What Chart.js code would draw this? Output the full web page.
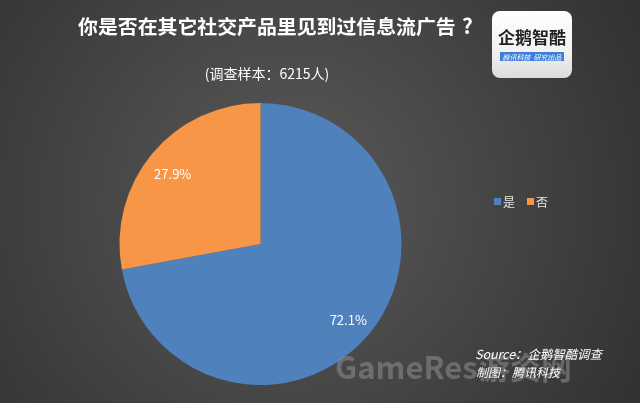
<!DOCTYPE html>
<html>
<head>
<meta charset="utf-8">
<script src="https://cdn.jsdelivr.net/npm/chart.js"></script>
<style>
    html, body { margin: 0; padding: 0; background: #3a3a3a; }
    #wrap { position: relative; width: 640px; height: 403px; }
    canvas { display: block; }
</style>
</head>
<body>
<div id="wrap"><canvas id="grafico" width="640" height="403"></canvas></div>
<script>
// datos
const categorias = ['是', '否'];
const valores = [72.1, 27.9];
const colores = ['#4F81BD', '#F79646'];

const titulo = '你是否在其它社交产品里见到过信息流广告';
const subtitulo = '(调查样本：6215人)';
const fuente = 'Source：企鹅智酷调查';
const autor = '制图：腾讯科技';

const FONT = '"Microsoft YaHei", "Noto Sans CJK SC", "Noto Sans", sans-serif';

// fondo degradado
const fondo = {
    id: 'fondo',
    beforeDraw(chart) {
        const ctx = chart.ctx;
        const w = chart.width, h = chart.height;
        const g = ctx.createRadialGradient(w * 0.45, h * 0.5, 20, w * 0.45, h * 0.5, w * 0.65);
        g.addColorStop(0, '#585858');
        g.addColorStop(1, '#303030');
        ctx.save();
        ctx.fillStyle = g;
        ctx.fillRect(0, 0, w, h);
        ctx.restore();
    }
};

// ajusta el tamaño de letra a un ancho dado
function fontAncho(ctx, texto, base, ancho, estilo) {
    ctx.font = estilo + ' ' + base + 'px ' + FONT;
    const m = ctx.measureText(texto).width;
    const size = base * ancho / m;
    ctx.font = estilo + ' ' + size.toFixed(2) + 'px ' + FONT;
}

// textos, etiquetas, leyenda, logo
const extras = {
    id: 'extras',
    afterDatasetsDraw(chart) {
        const ctx = chart.ctx;
        ctx.save();

        // etiquetas de porcentaje
        const meta = chart.getDatasetMeta(0);
        ctx.font = '13px ' + FONT;
        ctx.fillStyle = '#ffffff';
        ctx.textAlign = 'center';
        ctx.textBaseline = 'middle';
        meta.data.forEach((arc, i) => {
            const mid = (arc.startAngle + arc.endAngle) / 2;
            const r = arc.outerRadius * 0.81;
            const x = arc.x + Math.cos(mid) * r;
            const y = arc.y + Math.sin(mid) * r;
            ctx.fillText(valores[i].toFixed(1) + '%', x, y + 3);
        });
        ctx.restore();
    },
    afterDraw(chart) {
        const ctx = chart.ctx;
        ctx.save();

        // titulo
        ctx.fillStyle = '#ffffff';
        ctx.textAlign = 'left';
        ctx.textBaseline = 'middle';
        fontAncho(ctx, titulo, 19, 378, 'bold');
        ctx.fillText(titulo, 78, 26);
        ctx.font = 'bold 21px ' + FONT;
        ctx.fillText('?', 462, 26);
        ctx.textAlign = 'center';
        ctx.font = '14px ' + FONT;
        ctx.fillText(subtitulo, 267, 74);

        // leyenda
        ctx.font = '12px ' + FONT;
        ctx.textAlign = 'left';
        let lx = 494;
        categorias.forEach((c, i) => {
            ctx.fillStyle = colores[i];
            ctx.fillRect(lx, 198, 7, 7);
            ctx.fillStyle = '#e6e6e6';
            ctx.fillText(c, lx + 9, 202);
            lx += 33;
        });

        // marca de agua
        ctx.font = 'bold 31px ' + FONT;
        ctx.fillStyle = 'rgba(150,150,150,0.5)';
        ctx.textBaseline = 'alphabetic';
        ctx.fillText('GameRes', 335, 379);
        ctx.fillText('游资网', 479, 379);

        // fuente
        ctx.fillStyle = '#ffffff';
        ctx.textBaseline = 'middle';
        fontAncho(ctx, fuente, 12.5, 127, 'italic');
        ctx.fillText(fuente, 475, 354);
        fontAncho(ctx, autor, 12.5, 84, 'italic');
        ctx.fillText(autor, 476, 372);

        // logo
        const bx = 492, by = 11, bw = 80, bh = 67;
        const lg = ctx.createLinearGradient(0, by, 0, by + bh);
        lg.addColorStop(0, '#ffffff');
        lg.addColorStop(0.6, '#f2f2f2');
        lg.addColorStop(1, '#dcdcdc');
        ctx.fillStyle = lg;
        ctx.beginPath();
        ctx.roundRect(bx, by, bw, bh, 8);
        ctx.fill();
        ctx.fillStyle = '#222222';
        ctx.font = 'bold 17px ' + FONT;
        ctx.textAlign = 'center';
        ctx.fillText('企鹅智酷', bx + bw / 2, by + 27);
        ctx.fillStyle = '#3d7fd6';
        ctx.fillRect(bx + 8, by + 41, bw - 16, 9);
        ctx.fillStyle = '#ffffff';
        ctx.font = 'italic 7px ' + FONT;
        ctx.fillText('腾讯科技  研究出品', bx + bw / 2, by + 46);

        ctx.restore();
    }
};

new Chart(document.getElementById('grafico'), {
    type: 'pie',
    data: {
        labels: categorias,
        datasets: [{
            data: valores,
            backgroundColor: colores,
            borderWidth: 0
        }]
    },
    options: {
        responsive: false,
        animation: false,
        layout: {
            padding: { top: 103, bottom: 18, left: 119.5, right: 238.5 }
        },
        plugins: {
            legend: { display: false },
            tooltip: { enabled: false }
        }
    },
    plugins: [fondo, extras]
});
</script>
</body>
</html>
